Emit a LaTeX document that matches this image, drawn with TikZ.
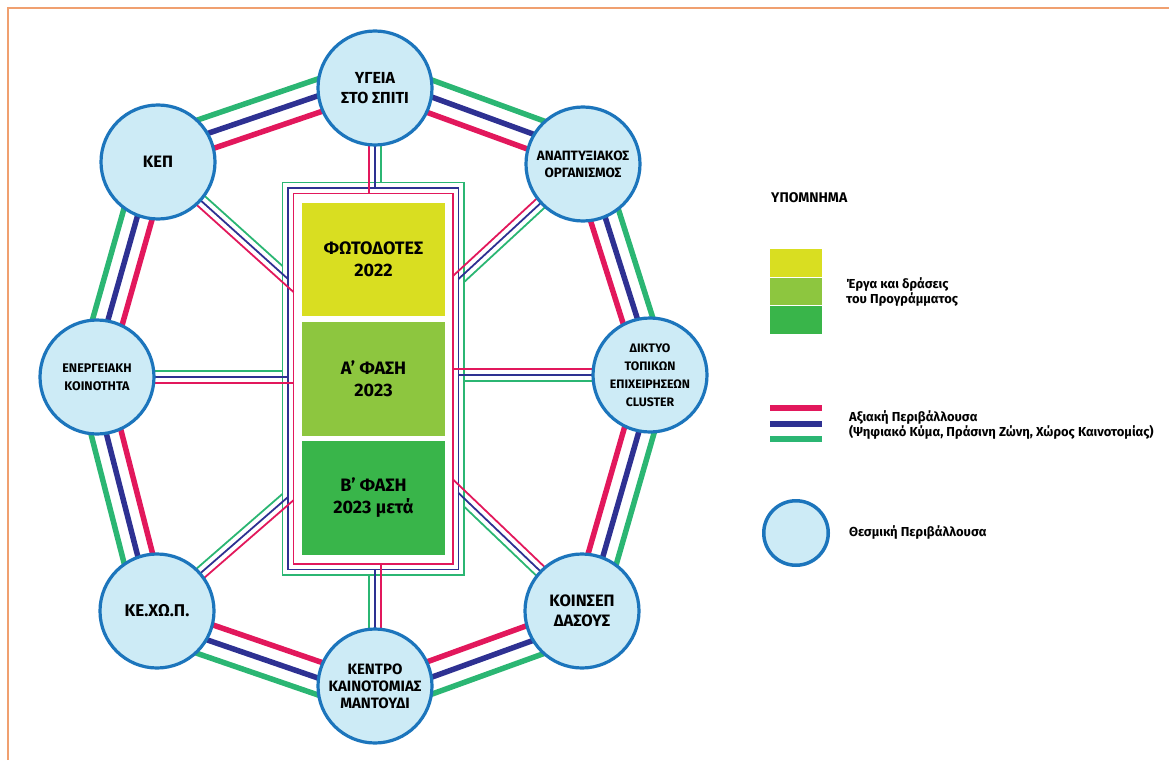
\documentclass[tikz,border=0pt]{standalone}
\usepackage{fontspec}
\setmainfont{Fira Sans}
\usetikzlibrary{calc}
\definecolor{cpink}{HTML}{E2185C}
\definecolor{cnavy}{HTML}{2E3192}
\definecolor{cgreen}{HTML}{2BB673}
\definecolor{cyel}{HTML}{D9DE21}
\definecolor{cmid}{HTML}{8DC63F}
\definecolor{cdark}{HTML}{39B54A}
\definecolor{cfill}{HTML}{CDEBF6}
\definecolor{cedge}{HTML}{1C75BC}
\definecolor{corange}{HTML}{F0A070}
\pgfdeclarelayer{bg}
\pgfsetlayers{bg,main}
\newcommand\fs[2]{\bfseries\fontsize{#1}{#2}\selectfont}
\tikzset{
  inst/.style={circle, draw=cedge, fill=cfill, line width=3.2pt, minimum size=114pt,
    inner sep=0pt, align=center, font=\fs{13}{18}},
  phase/.style={rectangle, minimum width=143pt, minimum height=113pt, inner sep=0pt,
    align=center, font=\fs{18}{22}},
  ringp/.style={cpink, line width=5.5pt},
  ringn/.style={cnavy, line width=5.5pt},
  ringg/.style={cgreen, line width=5.5pt},
  rp/.style={cpink, line width=1.8pt},
  rn/.style={cnavy, line width=1.8pt},
  rg/.style={cgreen, line width=1.8pt},
  legtext/.style={anchor=west, align=left, inner sep=0pt, font=\fs{13}{15}},
}
% #1,#2 circles; #3 pink offset (inward), #4 navy offset, #5 green offset (outward)
\newcommand\ringseg[5]{%
  \draw[ringp] ($(#1.center)!#3pt!-90:(#2.center)$) -- ($(#2.center)!#3pt!90:(#1.center)$);
  \draw[ringn] ($(#1.center)!#4pt!90:(#2.center)$) -- ($(#2.center)!#4pt!-90:(#1.center)$);
  \draw[ringg] ($(#1.center)!#5pt!90:(#2.center)$) -- ($(#2.center)!#5pt!-90:(#1.center)$);
}
\newcommand\radial[3]{%
  \coordinate (ga) at ($(#1.center)!6pt!90:(#2)$);
  \coordinate (gb) at ($(#2)!6pt!-90:(#1.center)$);
  \coordinate (pa) at ($(#1.center)!6pt!-90:(#2)$);
  \coordinate (pb) at ($(#2)!6pt!90:(#1.center)$);
  \draw[rg] (ga) -- (intersection of ga--gb and g#3a--g#3b);
  \draw[rn] (#1.center) -- (#2);
  \draw[rp] (pa) -- (intersection of pa--pb and p#3a--p#3b);
}
\begin{document}
\begin{tikzpicture}[x=1pt,y=-1pt]
\useasboundingbox (0,0) rectangle (1169,760);
\draw[corange, line width=1.6pt] (8,760) -- (8,8) -- (1169,8);

% institutional circles
\node[inst, font=\fs{16}{20}] (ygeia) at (375,88) {ΥΓΕΙΑ\\ΣΤΟ ΣΠΙΤΙ};
\node[inst, font=\fs{16.5}{20}] (kep) at (158,162) {ΚΕΠ};
\node[inst, font=\fs{13.5}{17}] (anap) at (583,164) {ΑΝΑΠΤΥΞΙΑΚΟΣ\\ΟΡΓΑΝΙΣΜΟΣ};
\node[inst, font=\fs{12.5}{18}] (energ) at (97,377) {ΕΝΕΡΓΕΙΑΚΗ\\ΚΟΙΝΟΤΗΤΑ};
\node[inst, font=\fs{12.3}{18}] (diktyo) at (650,375) {ΔΙΚΤΥΟ\\ΤΟΠΙΚΩΝ\\ΕΠΙΧΕΙΡΗΣΕΩΝ\\CLUSTER};
\node[inst, font=\fs{17}{20}] (kexop) at (157,611) {ΚΕ.ΧΩ.Π.};
\node[inst, font=\fs{16.5}{20}] (koinsep) at (582,611) {ΚΟΙΝΣΕΠ\\ΔΑΣΟΥΣ};
\node[inst, font=\fs{15}{17}] (kentro) at (375,686) {ΚΕΝΤΡΟ\\ΚΑΙΝΟΤΟΜΙΑΣ\\ΜΑΝΤΟΥΔΙ};

% phases
\node[phase, fill=cyel] (ph1) at (373.5,259.5) {ΦΩΤΟΔΟΤΕΣ\\2022};
\node[phase, fill=cmid, minimum height=114pt] (ph2) at (373.5,379) {Α' ΦΑΣΗ\\2023};
\node[phase, fill=cdark, minimum height=114pt] (ph3) at (373.5,498) {Β' ΦΑΣΗ\\2023 μετά};

% frame side coordinates
\coordinate (gLa) at (282.5,100); \coordinate (gLb) at (282.5,600);
\coordinate (gRa) at (464,100);   \coordinate (gRb) at (464,600);
\coordinate (gTa) at (200,182.5); \coordinate (gTb) at (500,182.5);
\coordinate (gBa) at (200,575);   \coordinate (gBb) at (500,575);
\coordinate (pLa) at (293.5,100); \coordinate (pLb) at (293.5,600);
\coordinate (pRa) at (453,100);   \coordinate (pRb) at (453,600);
\coordinate (pTa) at (200,193.5); \coordinate (pTb) at (500,193.5);
\coordinate (pBa) at (200,564);   \coordinate (pBb) at (500,564);
% navy targets
\coordinate (tT) at (375,188);
\coordinate (tB) at (375,569.5);
\coordinate (tL) at (288,377);
\coordinate (tR) at (458.5,375);
\coordinate (tKEP) at (288,279);
\coordinate (tANA) at (458.5,279);
\coordinate (tKEX) at (288,497);
\coordinate (tKOI) at (458.5,493);

\begin{pgfonlayer}{bg}
  \draw[rg] (282.5,182.5) rectangle (464,575);
  \draw[rn] (288,188) rectangle (458.5,569.5);
  \draw[rp] (293.5,193.5) rectangle (453,564);
  \ringseg{kep}{ygeia}{5}{11}{27}
  \ringseg{ygeia}{anap}{5}{11}{27}
  \ringseg{anap}{diktyo}{10}{5}{20}
  \ringseg{diktyo}{koinsep}{10}{5}{20}
  \ringseg{koinsep}{kentro}{5}{11}{27}
  \ringseg{kentro}{kexop}{5}{11}{27}
  \ringseg{kexop}{energ}{10}{5}{20}
  \ringseg{energ}{kep}{10}{5}{20}
  \radial{ygeia}{tT}{T}
  \radial{kentro}{tB}{B}
  \radial{energ}{tL}{L}
  \radial{diktyo}{tR}{R}
  \radial{kep}{tKEP}{L}
  \radial{anap}{tANA}{R}
  \radial{kexop}{tKEX}{L}
  \radial{koinsep}{tKOI}{R}
\end{pgfonlayer}

% legend
\node[anchor=west, inner sep=0pt, font=\fs{14}{16}] (legtitle) at (771,198) {ΥΠΟΜΝΗΜΑ};
\node[fill=cyel, minimum width=52pt, minimum height=28pt, inner sep=0pt] (ly) at (796,263) {};
\node[fill=cmid, minimum width=52pt, minimum height=27pt, inner sep=0pt] (lm) at (796,291.5) {};
\node[fill=cdark, minimum width=52pt, minimum height=28pt, inner sep=0pt] (ld) at (796,319.5) {};
\node[legtext] (ltxt1) at (846,292.5) {Έργα και δράσεις\\ του Προγράμματος};
\draw[ringp, line width=6pt] (770,408) -- (822,408);
\draw[ringn, line width=6pt] (770,423.5) -- (822,423.5);
\draw[ringg, line width=6pt] (770,439) -- (822,439);
\node[legtext] (ltxt2) at (849,425.5) {Αξιακή Περιβάλλουσα\\(Ψηφιακό Κύμα, Πράσινη Ζώνη, Χώρος Καινοτομίας)};
\node[inst, minimum size=64.5pt, line width=3.5pt] (lcirc) at (796,533) {};
\node[legtext] (ltxt3) at (849,533) {Θεσμική Περιβάλλουσα};
\end{tikzpicture}
\end{document}
